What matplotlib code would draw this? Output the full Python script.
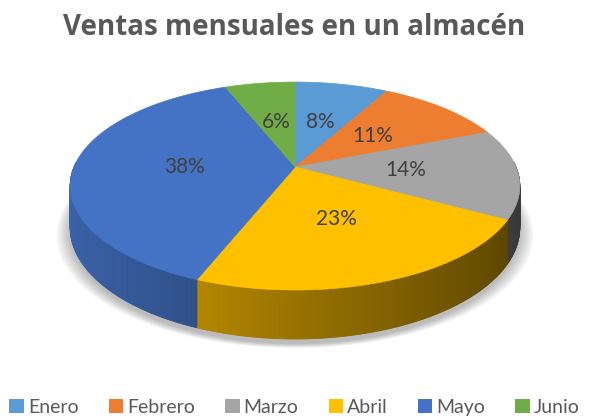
import numpy as np
import matplotlib
matplotlib.use('Agg')
import matplotlib.pyplot as plt
from matplotlib.patches import Patch
from matplotlib.collections import PolyCollection
from matplotlib.colors import to_rgb

# data
meses = ['Enero', 'Febrero', 'Marzo', 'Abril', 'Mayo', 'Junio']
ventas = [8, 11, 14, 23, 38, 6]
colores = ['#5B9BD5', '#ED7D31', '#A5A5A5', '#FFC000', '#4472C4', '#70AD47']
titulo = 'Ventas mensuales en un almacén'

# 3d pie geometry (pixel units)
cx, cy = 295, 167
A, B = 221, 100.5
k = 0.183       # perspective
D = 40          # thickness


def proj(t, r=1.0, drop=0.0):
    X = r * np.sin(t)
    Z = r * np.cos(t)
    den = 1 + k * Z
    return cx + A * X / den, cy - B * Z / den + drop / den


def shade(c, t):
    f = 0.6 + 0.27 * (-np.sin(t))
    f = np.clip(f, 0, 1)
    return tuple(np.array(to_rgb(c)) * f)


fig = plt.figure(figsize=(5.89, 4.19), dpi=100)
ax = fig.add_axes([0, 0, 1, 1])
ax.set_xlim(0, 589)
ax.set_ylim(419, 0)
ax.axis('off')

frac = np.array(ventas) / sum(ventas)
bounds = np.concatenate([[0], np.cumsum(frac)]) * 2 * np.pi

# soft shadow under the pie
tt = np.linspace(0, 2 * np.pi, 300)
for i, grow in enumerate(np.linspace(14, 0, 8)):
    sx, sy = proj(tt, 1.0, D + 4)
    sx = cx + (sx - cx) * (1 + grow / 230)
    sy = sy + grow * 0.3
    ax.fill(sx, sy, color='#000000', alpha=0.035, lw=0)

# side walls (front half only)
polys, cols = [], []
for i in range(len(ventas)):
    a0, a1 = max(bounds[i], np.pi / 2 - 0.05), min(bounds[i + 1], 3 * np.pi / 2 + 0.05)
    if a1 <= a0:
        continue
    ts = np.linspace(a0, a1, max(3, int((a1 - a0) / 0.01)))
    for j in range(len(ts) - 1):
        x0, y0 = proj(ts[j])
        x1, y1 = proj(ts[j + 1])
        x2, y2 = proj(ts[j + 1], 1.0, D)
        x3, y3 = proj(ts[j], 1.0, D)
        polys.append([(x0, y0), (x1, y1), (x2, y2), (x3, y3)])
        cols.append(shade(colores[i], 0.5 * (ts[j] + ts[j + 1])))
pc = PolyCollection(polys, facecolors=cols, edgecolors=cols, linewidths=0.6)
ax.add_collection(pc)

# top surface
for i in range(len(ventas)):
    ts = np.linspace(bounds[i], bounds[i + 1], 100)
    xs, ys = proj(ts)
    ax.fill(np.r_[cx, xs], np.r_[cy, ys], color=colores[i], lw=0.5, ec=colores[i])

# labels
for i, v in enumerate(ventas):
    tm = 0.5 * (bounds[i] + bounds[i + 1])
    lx, ly = proj(tm, 0.5)
    ax.text(lx, ly, f'{v}%', ha='center', va='center', fontsize=15,
            color='#404040', family='Lato')

fig.text(0.5, 0.935, titulo, ha='center', va='center', fontsize=20,
         fontweight='bold', color='#595959', family='Open Sans')

handles = [Patch(facecolor=c, edgecolor='none') for c in colores]
fig.legend(handles, meses, loc='center', bbox_to_anchor=(0.5, 0.028), ncol=6,
           frameon=False, handlelength=0.75, handleheight=0.75,
           handletextpad=0.2, columnspacing=1.55, prop={'family': 'Lato', 'size': 14},
           labelcolor='#595959')

fig.savefig('out.png', dpi=100)
